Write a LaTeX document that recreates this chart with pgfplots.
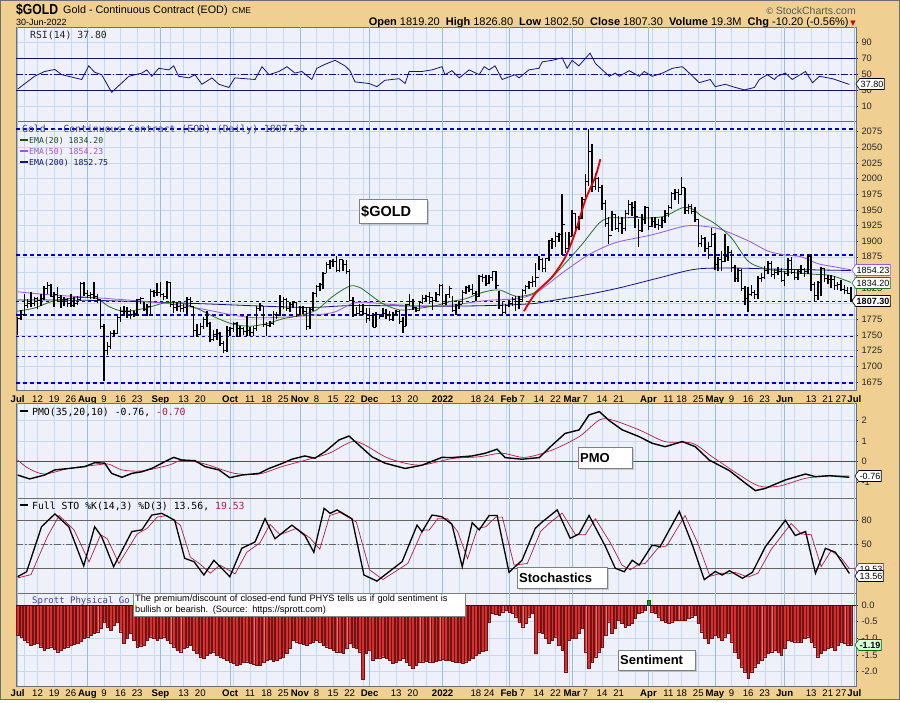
\documentclass[border=0pt]{standalone}
\usepackage{graphicx}
\usepackage{pgfplots}
\usepackage{pgfplotstable}
\pgfplotsset{compat=1.18}
\usepackage{fontspec}
\setmainfont{Liberation Sans}
\newfontfamily\mono{DejaVu Sans Mono}
\newfontfamily\djv{DejaVu Sans}
\usetikzlibrary{shapes.symbols,shadows}

\definecolor{tanbg}{RGB}{240,208,146}
\definecolor{panelbg}{RGB}{238,240,250}
\definecolor{gridblue}{RGB}{200,216,238}
\definecolor{monthblue}{RGB}{150,190,232}
\definecolor{navy}{RGB}{20,20,120}
\definecolor{dashblue}{RGB}{0,0,200}
\definecolor{emagreen}{RGB}{40,110,40}
\definecolor{emapurple}{RGB}{150,90,215}
\definecolor{maroon}{RGB}{175,30,70}
\definecolor{sentred}{RGB}{214,48,48}
\definecolor{sentedge}{RGB}{110,20,20}
\definecolor{sentgreen}{RGB}{40,140,70}
\definecolor{framegray}{RGB}{110,110,110}
\definecolor{stogray}{RGB}{100,100,100}

% daily bars: x = trading day (0 = 1 Jul 2021), high, low, close
\pgfplotstableread[row sep=\\]{
x h l c\\
0 1779 1750 1777\\ 1 1790 1774 1783\\ 2 1815 1781 1797\\ 3 1807 1793 1800\\ 4 1818 1795 1801\\
5 1811 1797 1808\\ 6 1810 1792 1805\\ 7 1815 1797 1809\\ 8 1829 1806 1825\\ 9 1834 1815 1829\\
10 1832 1810 1812\\ 11 1818 1794 1815\\ 12 1826 1803 1810\\ 13 1814 1793 1803\\ 14 1810 1796 1806\\
15 1809 1794 1801\\ 16 1815 1794 1797\\ 17 1811 1794 1800\\ 18 1813 1798 1807\\ 19 1835 1804 1832\\
20 1834 1812 1817\\ 21 1822 1809 1813\\ 22 1818 1807 1814\\ 23 1834 1808 1812\\ 24 1815 1801 1807\\
25 1807 1759 1763\\ 26 1767 1677 1726\\ 27 1738 1718 1731\\ 28 1757 1727 1752\\ 29 1758 1747 1753\\
30 1781 1751 1778\\ 31 1795 1770 1788\\ 32 1796 1781 1787\\ 33 1795 1777 1788\\ 34 1792 1776 1782\\
35 1789 1778 1784\\ 36 1808 1780 1806\\ 37 1811 1799 1808\\ 38 1803 1788 1791\\ 39 1799 1781 1795\\
40 1824 1781 1819\\ 41 1822 1810 1818\\ 42 1833 1812 1818\\ 43 1835 1810 1815\\ 44 1817 1806 1811\\
45 1837 1808 1834\\ 46 1834 1795 1798\\ 47 1805 1785 1794\\ 48 1802 1789 1795\\ 49 1803 1787 1792\\
50 1799 1787 1794\\ 51 1810 1783 1806\\ 52 1811 1795 1796\\ 53 1795 1746 1757\\ 54 1768 1746 1751\\
55 1769 1750 1764\\ 56 1778 1760 1775\\ 57 1788 1763 1768\\ 58 1770 1738 1743\\ 59 1758 1740 1751\\
60 1760 1742 1752\\ 61 1755 1732 1737\\ 62 1740 1721 1726\\ 63 1764 1723 1757\\ 64 1763 1748 1760\\
65 1770 1755 1768\\ 66 1770 1747 1760\\ 67 1765 1746 1761\\ 68 1763 1750 1756\\ 69 1780 1748 1757\\
70 1762 1748 1754\\ 71 1765 1748 1760\\ 72 1796 1756 1793\\ 73 1801 1789 1797\\ 74 1797 1763 1767\\
75 1771 1749 1765\\ 76 1773 1763 1769\\ 77 1788 1766 1782\\ 78 1786 1775 1781\\ 79 1814 1780 1796\\
80 1810 1792 1806\\ 81 1809 1789 1793\\ 82 1802 1786 1798\\ 83 1804 1793 1802\\ 84 1802 1779 1783\\
85 1796 1782 1794\\ 86 1796 1784 1788\\ 87 1795 1758 1763\\ 88 1793 1760 1791\\ 89 1818 1789 1817\\
90 1830 1810 1827\\ 91 1833 1821 1831\\ 92 1851 1823 1849\\ 93 1866 1849 1862\\ 94 1870 1855 1868\\
95 1872 1858 1867\\ 96 1877 1852 1853\\ 97 1872 1851 1870\\ 98 1870 1853 1862\\ 99 1870 1847 1852\\
100 1855 1805 1805\\ 101 1811 1779 1782\\ 102 1794 1781 1784\\ 103 1800 1783 1788\\ 104 1799 1782 1785\\
105 1793 1769 1776\\ 106 1793 1772 1781\\ 107 1785 1762 1762\\ 108 1787 1762 1783\\ 109 1784 1776 1779\\
110 1793 1778 1785\\ 111 1792 1776 1783\\ 112 1788 1772 1775\\ 113 1787 1773 1782\\ 114 1790 1782 1787\\
115 1790 1768 1771\\ 116 1778 1753 1764\\ 117 1800 1765 1798\\ 118 1815 1797 1804\\ 119 1808 1790 1794\\
120 1795 1786 1789\\ 121 1805 1788 1802\\ 122 1814 1800 1809\\ 123 1814 1805 1811\\ 124 1818 1800 1810\\
125 1810 1790 1805\\ 126 1818 1803 1814\\ 127 1831 1812 1829\\ 128 1831 1799 1800\\ 129 1816 1798 1814\\
130 1829 1809 1825\\ 131 1812 1788 1789\\ 132 1800 1782 1797\\ 133 1805 1791 1799\\ 134 1822 1799 1818\\
135 1829 1815 1826\\ 136 1830 1818 1822\\ 137 1831 1814 1817\\ 138 1821 1805 1812\\ 139 1846 1810 1844\\
140 1847 1834 1842\\ 141 1846 1829 1833\\ 142 1846 1831 1842\\ 143 1853 1836 1852\\ 144 1853 1823 1829\\
145 1820 1791 1797\\ 146 1802 1781 1786\\ 147 1800 1784 1797\\ 148 1806 1795 1801\\ 149 1811 1797 1807\\
150 1812 1788 1804\\ 151 1812 1792 1807\\ 152 1823 1803 1821\\ 153 1830 1815 1827\\ 154 1836 1824 1834\\
155 1844 1826 1836\\ 156 1865 1826 1842\\ 157 1876 1854 1871\\ 158 1873 1851 1856\\ 159 1873 1850 1872\\
160 1902 1869 1901\\ 161 1905 1888 1900\\ 162 1914 1890 1907\\ 163 1913 1898 1910\\ 164 1976 1878 1926\\
165 1914 1881 1889\\ 166 1915 1888 1908\\ 167 1950 1908 1944\\ 168 1945 1912 1922\\ 169 1940 1917 1936\\
170 1970 1935 1966\\ 171 2007 1970 1995\\ 172 2079 1988 2043\\ 173 2056 1978 1988\\ 174 2009 1982 2000\\
175 2003 1979 1985\\ 176 1989 1950 1960\\ 177 1966 1923 1929\\ 178 1939 1895 1909\\ 179 1948 1916 1943\\
180 1944 1917 1921\\ 181 1940 1915 1929\\ 182 1938 1911 1921\\ 183 1950 1916 1944\\ 184 1966 1941 1958\\
185 1963 1940 1954\\ 186 1964 1921 1939\\ 187 1935 1891 1917\\ 188 1943 1915 1934\\ 189 1956 1928 1954\\
190 1954 1917 1924\\ 191 1938 1922 1932\\ 192 1939 1921 1926\\ 193 1935 1917 1925\\ 194 1938 1921 1933\\
195 1949 1929 1945\\ 196 1957 1938 1954\\ 197 1978 1951 1976\\ 198 1984 1966 1977\\ 199 1983 1960 1974\\
200 2003 1974 1986\\ 201 1985 1943 1949\\ 202 1960 1944 1955\\ 203 1960 1943 1948\\ 204 1955 1931 1934\\
205 1935 1890 1896\\ 206 1910 1890 1904\\ 207 1906 1883 1888\\ 208 1899 1872 1891\\ 209 1921 1890 1911\\
210 1913 1854 1863\\ 211 1875 1852 1870\\ 212 1884 1852 1868\\ 213 1912 1867 1875\\ 214 1892 1869 1882\\
215 1886 1851 1858\\ 216 1862 1835 1841\\ 217 1857 1834 1853\\ 218 1856 1821 1824\\ 219 1828 1798 1808\\
220 1826 1786 1814\\ 221 1830 1812 1818\\ 222 1822 1808 1815\\ 223 1845 1807 1841\\ 224 1849 1834 1842\\
225 1860 1840 1853\\ 226 1868 1848 1865\\ 227 1868 1842 1846\\ 228 1855 1840 1850\\ 229 1858 1846 1851\\
230 1857 1836 1837\\ 231 1852 1828 1848\\ 232 1873 1844 1869\\ 233 1875 1848 1850\\ 234 1855 1838 1842\\
235 1856 1838 1852\\ 236 1862 1848 1854\\ 237 1857 1843 1852\\ 238 1878 1848 1875\\ 239 1880 1821 1831\\
240 1835 1804 1813\\ 241 1837 1806 1834\\ 242 1858 1813 1856\\ 243 1857 1835 1840\\ 244 1846 1831 1838\\
245 1846 1825 1838\\ 246 1844 1822 1829\\ 247 1834 1822 1830\\ 248 1838 1821 1823\\ 249 1830 1815 1821\\
250 1826 1815 1817\\ 251 1827 1802 1807\\
}\price

\pgfplotsset{
  panel/.style={
    scale only axis, width=840pt, anchor=north west,
    xmin=-0.5, xmax=252.5,
    axis background/.style={fill=panelbg},
    axis line style={framegray},
    xtick={6,11,16,26,31,36,50,55,70,75,80,90,95,100,114,119,138,142,152,157,162,171,176,181,196,200,205,215,220,225,239,244,248},
    minor xtick={2,41,46,60,65,104,109,123,133,147,166,186,191,230,234},
    extra x ticks={0,21,43,64,85,106,128,148,167,190,210,231,252},
    xmajorgrids, xminorgrids, ymajorgrids,
    major grid style={gridblue, line width=0.4pt},
    minor grid style={gridblue, line width=0.4pt},
    xtick style={draw=none}, minor x tick style={draw=none},
    ytick pos=right, yticklabel pos=right,
    ytick style={black, line width=0.4pt}, tick align=outside, major tick length=2pt,
    tick label style={font=\fontsize{9.3}{10}\selectfont, text=black!85},
    /pgf/number format/assume math mode=true,
    /pgf/number format/1000 sep={},
  },
  nolabels/.style={
    xticklabel={},
    extra x tick style={major grid style={monthblue, line width=0.6pt}, xticklabel={}},
  },
  datelabels/.style={
    xticklabels={12,19,26,9,16,23,13,20,11,18,25,8,15,22,13,20,18,24,7,14,22,7,14,21,11,18,25,9,16,23,13,21,27},
    extra x tick labels={\textbf{Jul},\textbf{Aug},\textbf{Sep},\textbf{Oct},\textbf{Nov},\textbf{Dec},\textbf{2022},\textbf{Feb},\textbf{Mar},\textbf{Apr},\textbf{May},\textbf{Jun},\textbf{Jul}},
    extra x tick style={major grid style={monthblue, line width=0.6pt}},
    xticklabel style={font=\fontsize{9.6}{10}\selectfont, text=black},
  },
}
\tikzset{
  tag/.style={signal, signal to=west, signal pointer angle=110, draw, fill=white,
    inner sep=1pt, font=\fontsize{9}{9}\selectfont, line width=0.6pt, minimum height=11pt},
  box/.style={draw=gray, fill=white, line width=0.4pt,
    drop shadow={shadow xshift=2pt, shadow yshift=-2pt, fill=black!35},
    anchor=north west, inner sep=2pt, align=left, font=\bfseries\fontsize{13}{13}\selectfont},
}

\begin{document}
\begin{tikzpicture}[x=1pt,y=1pt]
\fill[tanbg] (0,0) rectangle (900,-700);
\draw[framegray] (0.5,-0.5) rectangle (899.5,-699.5);

% header
\node[anchor=base west, inner sep=0pt, font=\bfseries\fontsize{14.5}{14.5}\selectfont] at (16,-14) {\scalebox{0.84}[1]{\$GOLD}};
\node[anchor=base west, inner sep=0pt, font=\fontsize{10.8}{12}\selectfont] at (63,-13) {Gold - Continuous Contract (EOD)};
\node[anchor=base west, inner sep=0pt, font=\fontsize{8.5}{9}\selectfont] at (232,-13) {CME};
\node[anchor=base west, inner sep=0pt, font=\fontsize{9}{10}\selectfont] at (16,-25) {30-Jun-2022};
\node[anchor=base east, inner sep=0pt, font=\fontsize{10.5}{11}\selectfont, text=black!65] at (856,-14) {\djv\fontsize{9}{10}\selectfont ©\,\rmfamily\fontsize{10.5}{11}\selectfont StockCharts.com};
\node[anchor=base east, inner sep=0pt, font=\fontsize{11}{12}\selectfont] at (856,-25)
  {\textbf{Open} 1819.20 \ \textbf{High} 1826.80 \ \textbf{Low} 1802.50 \ \textbf{Close} 1807.30 \ \textbf{Volume} 19.3M \ \textbf{Chg} -10.20 (-0.56\%)\,{\djv\color{red!80!black}\fontsize{7}{7}\selectfont ▼}};

% ---------- RSI ----------
\begin{axis}[panel, nolabels, at={(16pt,-27pt)}, height=94pt,
  ymin=-7.9, ymax=109.6, ytick={10,30,50,70,90}]
\addplot[navy, line width=0.6pt] coordinates {(-0.5,70) (252.5,70)};
\addplot[navy, line width=0.6pt] coordinates {(-0.5,30) (252.5,30)};
\addplot[navy, line width=0.6pt, dash pattern=on 7pt off 2pt on 1.5pt off 2pt] coordinates {(-0.5,50) (252.5,50)};
\addplot[navy, line width=0.8pt] coordinates {
(0,32)(5.1,48)(8.1,54)(11.2,56.5)(13.3,50)(19.3,44)(21.4,61)(23.2,53)(25.3,50)(28.3,28)
(30.4,36)(33.5,48)(37.4,52)(38.9,56)(40.4,48)(42.5,58)(45.5,56)(47,61)(48.5,48)(51.6,46)
(53.4,50)(55.5,38)(58.5,46)(60.6,38)(63.6,34)(65.4,46)(71.5,44)(73.6,60)(75.7,50)(78.7,54)
(81.1,60)(83.5,52)(85.6,54)(88.6,44)(90.1,58)(92.6,63)(95.6,68)(98.6,61)(100.1,55)(101.6,41)
(105.8,39)(108.2,35)(110.6,43)(114.9,45)(116.7,39)(117.9,54)(121.8,54)(124.8,56)(127.8,60)(128.7,50)
(130.8,55)(133,46)(136,56)(139,50)(140.5,60)(142,56)(143.8,61)(145.9,44)(149.8,50)(151,46)
(154,56)(157,58)(158,66)(161,68)(164,71)(165.5,58)(167,68)(169,61)(172.4,77)(174,64)
(178.2,48)(180,52)(181.2,48)(184.2,55)(187.2,48)(188.7,54)(191.1,48)(194.2,52)(197.2,58)(200.2,60)
(202.3,52)(205.3,40)(208.6,44)(210.1,35)(213.1,38)(216.2,34)(218.9,31)(221.9,34)(223.4,44)(225.8,50)
(227.9,44)(228.8,48)(231.2,52)(233.3,44)(237.3,54)(239.4,40)(241.5,48)(245.4,45)(250.5,37.8)};
\end{axis}

% ---------- Price ----------
\begin{axis}[panel, datelabels, at={(16pt,-121pt)}, height=269pt,
  ymin=1662, ymax=2092,
  ytick={1675,1700,1725,1750,1775,1800,1825,1850,1875,1900,1925,1950,1975,2000,2025,2050,2075},
  yticklabels={1675,1700,1725,1750,1775,,1825,,1875,1900,1925,1950,1975,2000,2025,2050,2075}]
\addplot[dashblue, line width=1.6pt, dash pattern=on 4pt off 3pt] coordinates {(-0.5,2079) (252.5,2079)};
\addplot[dashblue, line width=1.6pt, dash pattern=on 4pt off 3pt] coordinates {(-0.5,1878) (252.5,1878)};
\addplot[dashblue, line width=1pt, dash pattern=on 3pt off 3pt] coordinates {(-0.5,1803) (252.5,1803)};
\addplot[dashblue, line width=1.6pt, dash pattern=on 4pt off 3pt] coordinates {(-0.5,1782) (252.5,1782)};
\addplot[dashblue, line width=1pt, dash pattern=on 3pt off 3pt] coordinates {(-0.5,1747) (252.5,1747)};
\addplot[dashblue, line width=1pt, dash pattern=on 3pt off 3pt] coordinates {(-0.5,1715) (252.5,1715)};
\addplot[dashblue, line width=1.6pt, dash pattern=on 4pt off 3pt] coordinates {(-0.5,1673) (252.5,1673)};
% EMA 200
\addplot[navy, line width=0.8pt, smooth] coordinates {(0,1806)(25,1805)(55,1800)(86,1794)(101,1797)(126,1796)(142,1797)(155,1800)(161,1805)(171,1814)(181,1825)(193,1841)(204,1855)(215,1857)(230,1855)(251,1853)};
% EMA 50
\addplot[emapurple, line width=0.8pt, smooth] coordinates {(0,1819)(10,1814)(25,1809)(44,1801)(55,1792)(70,1778)(85,1780)(95,1786)(102,1802)(112,1799)(122,1796)(131,1798)(141,1805)(150,1808)(156,1817)(164,1849)(171,1875)(176,1889)(181,1899)(191,1910)(201,1924)(206,1924)(211,1920)(216,1910)(221,1898)(226,1884)(231,1878)(236,1875)(241,1864)(246,1859)(251,1854)};
% EMA 20
\addplot[emagreen, line width=0.8pt, smooth] coordinates {(0,1788)(5,1793)(10,1803)(15,1808)(20,1810)(24,1808)(27,1797)(30,1790)(33,1788)(36,1790)(40,1795)(45,1802)(50,1800)(55,1790)(60,1777)(65,1767)(70,1764)(75,1768)(80,1776)(85,1781)(90,1790)(95,1812)(100,1828)(103,1826)(106,1815)(110,1800)(115,1790)(120,1792)(126,1797)(130,1803)(135,1808)(140,1818)(145,1822)(150,1812)(155,1816)(160,1837)(165,1865)(170,1895)(175,1928)(178,1937)(182,1937)(186,1938)(190,1937)(195,1940)(200,1953)(203,1952)(206,1940)(210,1928)(215,1905)(220,1868)(225,1856)(230,1852)(235,1849)(240,1847)(245,1845)(251,1834)};
% bars
\addplot[draw=none, error bars/.cd, y dir=both, y explicit, error mark=none,
  error bar style={draw=black, line width=1.5pt}]
  table[x=x, y=c, y error plus expr=\thisrow{h}-\thisrow{c}, y error minus expr=\thisrow{c}-\thisrow{l}] {\price};
\addplot[only marks, mark=-, mark size=1.6pt, mark options={xshift=1.6pt, line width=0.9pt, black}] table[x=x, y=c] {\price};
% parabolic trend
\addplot[red!90!black, line width=1.8pt, smooth] coordinates {(152.5,1788)(156,1817)(161,1843)(165,1875)(168,1915)(171,1966)(174,2003)(175.5,2031)};
\end{axis}

% ---------- PMO ----------
\begin{axis}[panel, nolabels, at={(16pt,-403pt)}, height=95pt,
  ymin=-1.77, ymax=2.86, ytick={-1,0,1,2}, yticklabels={-1,0,1,2}]
\addplot[maroon, line width=0.8pt] coordinates {(-0.5,0) (252.5,0)};
\addplot[maroon, line width=0.7pt, smooth] coordinates {
(0,0.08)(3.3,-0.33)(8.1,-0.6)(15.4,-0.33)(23.2,-0.17)(27.4,-0.12)(31.4,-0.4)(37.4,-0.45)(45.5,-0.17)(49.4,0.08)
(53.4,0.0)(57.6,-0.17)(65.4,-0.57)(72.7,-0.6)(79.6,-0.24)(87.7,0.12)(93.8,0.41)(100.7,0.98)(104.6,0.81)(111.8,0.16)
(120.9,-0.17)(130.8,0.15)(139,0.24)(145.9,0.41)(152.8,0.21)(161,0.57)(169.1,1.22)(175.2,2.03)(179.1,2.03)(187.2,1.55)
(195,0.98)(203.2,0.9)(209.2,0.24)(217.4,-0.65)(223.4,-1.19)(229.4,-1.19)(237.3,-0.81)(244.5,-0.7)(250.5,-0.7)};
\addplot[black, line width=1.4pt] coordinates {
(0,-0.65)(3.6,-0.84)(8.1,-0.65)(11.2,-0.40)(15.4,-0.33)(20.2,-0.24)(23.2,-0.05)(26.2,-0.07)(28.3,-0.57)(31.4,-0.76)
(34.4,-0.57)(37.4,-0.49)(40.4,-0.33)(44.3,0.0)(47,0.21)(49.4,0.08)(53.4,0.05)(56.4,-0.24)(60.6,-0.40)(63.9,-0.78)
(67.5,-0.65)(72.7,-0.57)(75.7,-0.33)(79.6,-0.09)(82.6,0.12)(86.5,0.28)(89.5,0.17)(92.6,0.49)(96.8,1.06)(99.8,1.25)
(102.8,0.81)(106.7,0.24)(110.6,-0.07)(116.7,-0.33)(121.8,-0.17)(127.8,0.21)(130.8,0.2)(136.9,0.28)(140.8,0.41)(144.4,0.61)
(146.8,0.2)(151.9,0.12)(157.1,0.2)(161,0.81)(164.9,1.38)(169.1,1.55)(172.1,2.28)(175.2,2.44)(178.2,2.0)(182.1,1.55)
(187.2,1.22)(191.1,0.9)(195,0.73)(200.2,0.98)(204.1,0.73)(208.3,0.08)(214.4,-0.44)(219.2,-1.05)(222.2,-1.41)(225.2,-1.3)
(231.2,-0.89)(237.3,-0.6)(240.3,-0.73)(244.5,-0.68)(250.5,-0.76)};
\end{axis}

% ---------- Stochastics ----------
\begin{axis}[panel, nolabels, at={(16pt,-498pt)}, height=95pt,
  ymin=-10.9, ymax=107.9, ytick={20,50,80}]
\addplot[stogray, line width=0.6pt] coordinates {(-0.5,80) (252.5,80)};
\addplot[stogray, line width=0.6pt] coordinates {(-0.5,20) (252.5,20)};
\addplot[stogray, line width=0.6pt, dash pattern=on 7pt off 2pt on 1.5pt off 2pt] coordinates {(-0.5,50) (252.5,50)};
\addplot[maroon, line width=0.7pt] coordinates {
(0,8)(4,12)(9,60)(12.5,86)(17,68)(21.5,28)(25,62)(27,57)(30.5,26)(36,63)(39,70)(42,84)(45,86)(49,74)(52,34)
(55,25)(58,14)(61,24)(65.5,13)(69,40)(73,52)(76,75)(79,62)(84,70)(88,58)(91,44)(94,86)(97,90)(102,78)(106,18)
(110,6)(117.5,26)(122,68)(124,68)(126.5,82)(129.5,82)(132.5,66)(135.5,32)(138.5,70)(141,72)(144,84)(146,84)(149.5,24)(153.5,26)(157.5,66)
(160,76)(164,89)(168,62)(171,62)(174,82)(178.5,52)(182,24)(184.5,18)(187,25)(189,26)(193,46)(195.5,48)(201,86)(205,50)(208.5,10)
(212,14)(214,13)(216,15)(220,9)(223,14)(227,44)(233,76)(236,63)(239,62)(242,22)(245,42)(248,33)(250.5,19.5)};
\addplot[black, line width=1.3pt] coordinates {
(0,9.5)(2.7,15.7)(7.2,72)(11.2,88)(15.4,72)(19.9,23)(23.2,72)(25.3,59.5)(28.9,22)(34.4,66)(37.4,68)(40.4,86.6)(43.4,88.7)(47.3,80)(50.3,32.5)
(53.1,28.3)(56.1,11.6)(59.1,30)(63.9,9.5)(67.5,45)(71.5,53)(74.5,82)(77.5,57)(82.6,74)(86.5,61)(89.2,40)(92.3,95)(94.1,88.7)(96.2,93)(100.7,82)
(104.3,11.6)(108.2,4)(115.8,28.3)(120.3,74)(121.8,65.7)(124.8,86.6)(127.8,84.5)(130.8,75)(133.9,22)(136.9,77)(139,68)(142,86)(144.4,86)(148,15)(151.9,30)
(155.9,70)(158,78)(162.5,93)(166.4,57.5)(169.1,63)(172.1,86)(177,47.5)(180,20)(182.7,15.7)(185.1,30)(187.2,24)(191.1,49)(193.5,47)(199.3,91)(203.2,49.5)
(206.8,5.8)(210.1,16)(212.2,11.6)(214.4,17)(218.3,7.5)(221.3,15)(225.2,47)(231.2,80)(234.2,61)(237.3,66)(240.3,13.7)(243.3,45)(246.3,40)(250.5,13.56)};
\end{axis}

% ---------- Sentiment ----------
\begin{axis}[panel, datelabels, at={(16pt,-593pt)}, height=93pt,
  ymin=-2.43, ymax=0.36, ytick={-2,-1.5,-1,-0.5,0}, yticklabels={-2.0,-1.5,-1.0,-0.5,0.0},
  xticklabel style={yshift=1.5pt}]
\addplot[ybar, bar width=0.8, bar shift=0pt, fill=sentred, draw=sentedge, line width=0.3pt] coordinates {
(0,-0.90)(1,-0.95)(2,-1.05)(3,-1.10)(4,-1.20)(5,-1.18)(6,-1.15)(7,-1.25)(8,-1.35)(9,-1.30)
(10,-1.25)(11,-1.32)(12,-1.40)(13,-1.35)(14,-1.30)(15,-1.25)(16,-1.20)(17,-1.18)(18,-1.15)(19,-1.08)
(20,-1.00)(21,-0.95)(22,-0.90)(23,-0.85)(24,-0.80)(25,-0.70)(26,-0.50)(27,-0.65)(28,-0.75)(29,-0.60)
(30,-0.50)(31,-0.80)(32,-1.15)(33,-1.00)(34,-0.85)(35,-1.05)(36,-1.25)(37,-1.22)(38,-1.20)(39,-1.05)
(40,-0.95)(41,-1.00)(42,-1.05)(43,-1.00)(44,-0.95)(45,-1.05)(46,-1.15)(47,-1.25)(48,-1.35)(49,-1.40)
(50,-1.30)(51,-1.25)(52,-1.20)(53,-1.35)(54,-1.45)(55,-1.55)(56,-1.60)(57,-1.50)(58,-1.45)(59,-1.40)
(60,-1.50)(61,-1.55)(62,-1.60)(63,-1.65)(64,-1.70)(65,-1.75)(66,-1.80)(67,-1.78)(68,-1.72)(69,-1.70)
(70,-1.75)(71,-1.78)(72,-1.80)(73,-1.80)(74,-1.72)(75,-1.65)(76,-1.62)(77,-1.68)(78,-1.65)(79,-1.60)
(80,-1.55)(81,-1.45)(82,-1.30)(83,-1.05)(84,-1.10)(85,-1.15)(86,-1.18)(87,-1.20)(88,-1.15)(89,-1.10)
(90,-1.05)(91,-1.10)(92,-1.20)(93,-1.25)(94,-1.30)(95,-1.35)(96,-1.40)(97,-1.42)(98,-1.45)(99,-1.30)
(100,-1.15)(101,-1.25)(102,-1.30)(103,-1.40)(104,-2.22)(105,-1.45)(106,-1.35)(107,-1.65)(108,-1.60)(109,-1.58)
(110,-1.55)(111,-1.60)(112,-1.65)(113,-1.75)(114,-1.70)(115,-1.65)(116,-1.60)(117,-1.70)(118,-1.80)(119,-1.90)
(120,-1.80)(121,-1.72)(122,-1.70)(123,-1.68)(124,-1.70)(125,-1.72)(126,-1.68)(127,-1.65)(128,-1.62)(129,-1.65)
(130,-1.65)(131,-1.68)(132,-1.72)(133,-1.70)(134,-1.75)(135,-1.70)(136,-1.65)(137,-1.60)(138,-1.50)(139,-1.45)
(140,-1.38)(141,-1.35)(142,-0.50)(143,-0.25)(144,-0.28)(145,-0.30)(146,-0.20)(147,-0.15)(148,-0.20)(149,-0.25)
(150,-0.35)(151,-0.50)(152,-0.65)(153,-0.55)(154,-0.35)(155,-0.25)(156,-1.45)(157,-0.80)(158,-0.85)(159,-1.00)
(160,-1.15)(161,-1.05)(162,-0.95)(163,-1.20)(164,-1.35)(165,-2.00)(166,-1.05)(167,-1.00)(168,-1.00)(169,-0.85)
(170,-0.70)(171,-1.40)(172,-1.90)(173,-1.70)(174,-1.55)(175,-1.40)(176,-1.25)(177,-0.90)(178,-0.50)(179,-0.85)
(180,-0.70)(181,-0.45)(182,-0.55)(183,-0.65)(184,-0.60)(185,-0.55)(186,-0.40)(187,-0.25)(188,-0.20)(189,-0.15)
(191,-0.20)(192,-0.25)(193,-0.35)(194,-0.45)(195,-0.50)(196,-0.55)(197,-0.50)(198,-0.45)(199,-0.45)
(200,-0.45)(201,-0.45)(202,-0.40)(203,-0.35)(204,-0.30)(205,-0.55)(206,-0.80)(207,-1.00)(208,-1.15)(209,-1.00)
(210,-0.90)(211,-0.95)(212,-1.05)(213,-0.95)(214,-0.85)(215,-1.10)(216,-1.40)(217,-1.60)(218,-1.85)(219,-2.00)
(220,-2.20)(221,-2.00)(222,-1.85)(223,-1.75)(224,-1.65)(225,-1.55)(226,-1.45)(227,-1.40)(228,-1.35)(229,-1.40)
(230,-1.50)(231,-1.30)(232,-1.05)(233,-1.08)(234,-1.10)(235,-1.10)(236,-1.10)(237,-1.00)(238,-0.95)(239,-1.10)
(240,-1.25)(241,-1.55)(242,-1.45)(243,-1.35)(244,-1.30)(245,-1.25)(246,-1.35)(247,-1.20)(248,-1.10)(249,-1.15)
(250,-1.19)(251,-1.19)};
\addplot[ybar, bar width=0.8, bar shift=0pt, fill=sentgreen, draw=black!60!green, line width=0.3pt] coordinates {(190,0.15)};
\addplot[navy, line width=0.7pt] coordinates {(-0.5,0) (252.5,0)};
\end{axis}

% ---------- panel legends ----------
\node[anchor=base west, inner sep=0pt, font=\mono\fontsize{9.8}{10}\selectfont, text=black!85] at (30,-38) {RSI(14) 37.80};
\node[anchor=base west, inner sep=0pt, font=\mono\fontsize{9.8}{10}\selectfont, text=navy!80] at (22,-132) {Gold - Continuous Contract (EOD) (Daily) 1807.30};
\draw[emagreen!70!black, line width=1.5pt] (20,-140) -- (28,-140);
\node[anchor=base west, inner sep=0pt, font=\mono\fontsize{8.2}{9}\selectfont, text=emagreen!70!black] at (29,-143) {EMA(20) 1834.20};
\draw[emapurple, line width=1.5pt] (20,-151) -- (28,-151);
\node[anchor=base west, inner sep=0pt, font=\mono\fontsize{8.2}{9}\selectfont, text=emapurple] at (29,-154) {EMA(50) 1854.23};
\draw[navy, line width=1.5pt] (20,-162) -- (28,-162);
\node[anchor=base west, inner sep=0pt, font=\mono\fontsize{8.2}{9}\selectfont, text=navy] at (29,-165) {EMA(200) 1852.75};
\draw[black, line width=1.5pt] (20,-411) -- (28,-411);
\node[anchor=base west, inner sep=0pt, font=\mono\fontsize{9.8}{10}\selectfont] at (32,-415) {PMO(35,20,10) -0.76, \textcolor{maroon}{-0.70}};
\draw[black, line width=1.5pt] (20,-505) -- (28,-505);
\node[anchor=base west, inner sep=0pt, font=\mono\fontsize{9.8}{10}\selectfont] at (32,-509) {Full STO \%K(14,3) \%D(3) 13.56, \textcolor{maroon}{19.53}};
\node[anchor=base west, inner sep=0pt, font=\mono\fontsize{9}{10}\selectfont, text=navy!80] at (32,-603) {Sprott Physical Go};
\node[draw=gray, fill=white, anchor=north west, inner sep=2pt, align=left, text width=328pt,
  font=\fontsize{9.2}{10.6}\selectfont] at (133,-593)
  {The premium/discount of closed-end fund PHYS tells us if gold sentiment is\\ bullish or bearish. (Source: https://sprott.com)};

% ---------- annotation boxes ----------
\node[box, text width=64pt, minimum height=24pt, font=\bfseries\fontsize{14.5}{14.5}\selectfont] at (359,-199) {\$GOLD};
\node[box, text width=50pt, minimum height=21pt] at (578,-447) {PMO};
\node[box, text width=86pt, minimum height=21pt] at (517,-567) {Stochastics};
\node[box, text width=73pt, minimum height=20pt] at (618,-650) {Sentiment};

% ---------- right-hand value tags ----------
\node[tag] at (872,-84) {37.80};
\node[tag, draw=emapurple] at (873,-270) {1854.23};
\node[tag, draw=emagreen] at (873,-283) {1834.20};
\node[tag, font=\bfseries\fontsize{9}{9}\selectfont] at (873,-301) {1807.30};
\node[tag] at (870,-476) {-0.76};
\node[tag, draw=maroon] at (871,-569) {19.53};
\node[tag] at (871,-576) {13.56};
\node[tag, fill=green!15, draw=green!40!black, font=\bfseries\fontsize{9}{9}\selectfont] at (870,-645) {-1.19};
\end{tikzpicture}
\end{document}
